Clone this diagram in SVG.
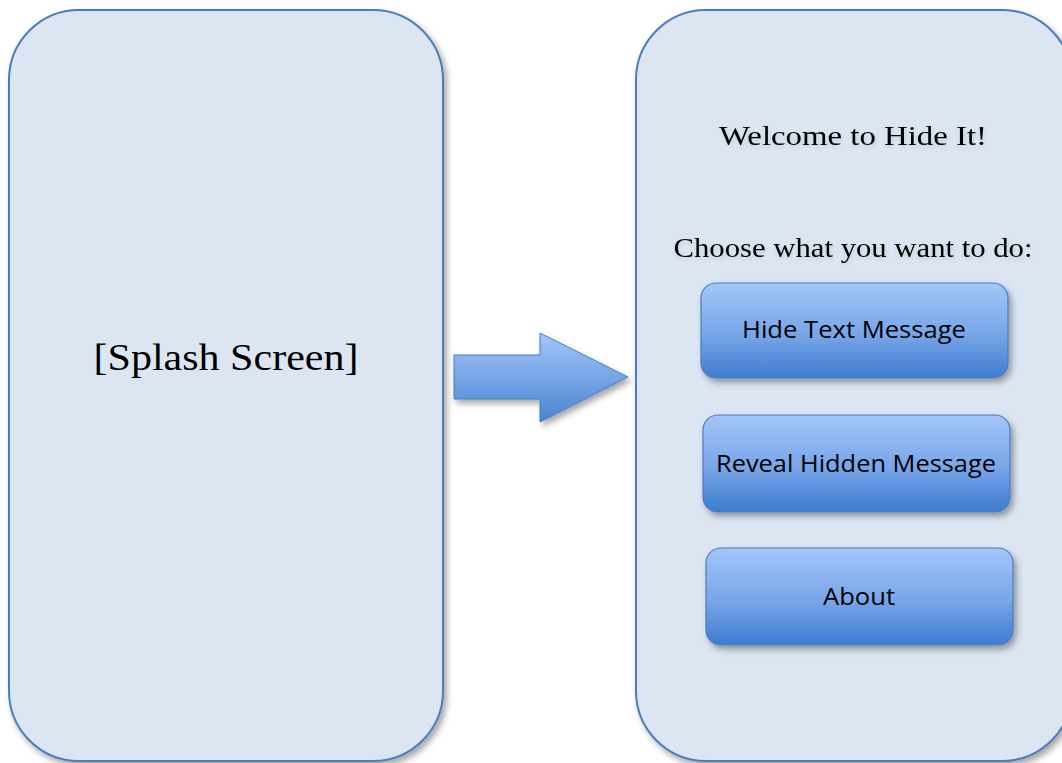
<svg xmlns="http://www.w3.org/2000/svg" width="1062" height="763" viewBox="0 0 1062 763">
<defs>
<linearGradient id="btnGrad" x1="0" y1="0" x2="0" y2="1">
<stop offset="0" stop-color="#a3c6fa"/>
<stop offset="0.55" stop-color="#77a5e8"/>
<stop offset="1" stop-color="#3d7cd0"/>
</linearGradient>
<linearGradient id="arrowGrad" x1="0" y1="0" x2="0" y2="1">
<stop offset="0" stop-color="#a3c6fa"/>
<stop offset="1" stop-color="#4a84d2"/>
</linearGradient>
<filter id="shadow" x="-10%" y="-10%" width="130%" height="130%">
<feDropShadow dx="3" dy="4" stdDeviation="3" flood-color="#000" flood-opacity="0.35"/>
</filter>
<filter id="txtShadow" x="-10%" y="-30%" width="120%" height="160%">
<feDropShadow dx="1" dy="2" stdDeviation="2" flood-color="#000" flood-opacity="0.12"/>
</filter>
</defs>
<style>
.panel{fill:#dce6f2;stroke:#4a7ebb;stroke-width:2}
.btn{fill:url(#btnGrad);stroke:#4a7ebb;stroke-width:1.2}
.serif{font-family:"Liberation Serif","DejaVu Serif",serif;fill:#000}
.sans{font-family:"Open Sans","Noto Sans","Liberation Sans",sans-serif;fill:#000;font-size:24px}
</style>
<rect width="1062" height="763" fill="#ffffff"/>
<g id="splash">
<rect class="panel" x="9" y="10" width="434" height="751" rx="70" ry="70" filter="url(#shadow)"/>
<text class="serif" x="226" y="370" font-size="37" text-anchor="middle" textLength="265" lengthAdjust="spacingAndGlyphs">[Splash Screen]</text>
</g>
<g id="connectors">
<path d="M454,355 L540,355 L540,333 L628,377 L540,422 L540,399 L454,399 Z" fill="url(#arrowGrad)" stroke="#4a7ebb" stroke-width="1" filter="url(#shadow)"/>
</g>
<g id="home">
<rect class="panel" x="636" y="10" width="436" height="751" rx="70" ry="70" filter="url(#shadow)"/>
<g filter="url(#txtShadow)">
<text class="serif" x="853" y="145" font-size="28" text-anchor="middle" textLength="268" lengthAdjust="spacingAndGlyphs">Welcome to Hide It!</text>
<text class="serif" x="853" y="257" font-size="28" text-anchor="middle" textLength="359" lengthAdjust="spacingAndGlyphs">Choose what you want to do:</text>
</g>
</g>
<g id="btn-hide">
<rect class="btn" x="701" y="283" width="307" height="95" rx="15" ry="15" filter="url(#shadow)"/>
<text class="sans" x="854" y="338" text-anchor="middle" textLength="224" lengthAdjust="spacingAndGlyphs">Hide Text Message</text>
</g>
<g id="btn-reveal">
<rect class="btn" x="703" y="415" width="307" height="97" rx="15" ry="15" filter="url(#shadow)"/>
<text class="sans" x="856" y="472" text-anchor="middle" textLength="280" lengthAdjust="spacingAndGlyphs">Reveal Hidden Message</text>
</g>
<g id="btn-about">
<rect class="btn" x="706" y="548" width="307" height="97" rx="15" ry="15" filter="url(#shadow)"/>
<text class="sans" x="859" y="605" text-anchor="middle" textLength="72" lengthAdjust="spacingAndGlyphs">About</text>
</g>
</svg>
